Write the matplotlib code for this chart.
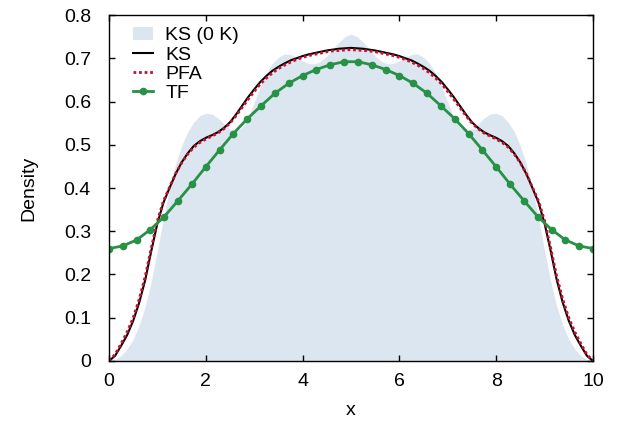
import numpy as np
import matplotlib
matplotlib.use("Agg")
import matplotlib.pyplot as plt
from matplotlib.ticker import FuncFormatter

plt.rcParams['font.family'] = ['Liberation Sans', 'DejaVu Sans']
plt.rcParams['font.size'] = 14

# grid for the KS / PFA / KS(0 K) curves (step 0.125)
x = np.linspace(0, 10, 81)

ks0 = [0.000, 0.004, 0.012, 0.028, 0.050, 0.083, 0.127, 0.185, 0.255, 0.330,
       0.400, 0.455, 0.497, 0.530, 0.552, 0.567, 0.573, 0.571, 0.562, 0.548,
       0.536, 0.532, 0.540, 0.562, 0.598, 0.634, 0.665, 0.688, 0.702, 0.710,
       0.709, 0.702, 0.694, 0.688, 0.687, 0.693, 0.705, 0.721, 0.737, 0.750,
       0.756,
       0.750, 0.737, 0.721, 0.705, 0.693, 0.687, 0.688, 0.694, 0.702, 0.709,
       0.710, 0.702, 0.688, 0.665, 0.634, 0.598, 0.562, 0.540, 0.532, 0.536,
       0.548, 0.562, 0.571, 0.573, 0.567, 0.552, 0.530, 0.497, 0.455, 0.400,
       0.330, 0.255, 0.185, 0.127, 0.083, 0.050, 0.028, 0.012, 0.004, 0.000]

ks = [0.000, 0.012, 0.035, 0.060, 0.093, 0.135, 0.188, 0.255, 0.318, 0.366,
      0.400, 0.432, 0.459, 0.480, 0.497, 0.508, 0.516, 0.522, 0.529, 0.539,
      0.552, 0.570, 0.590, 0.610, 0.628, 0.645, 0.659, 0.671, 0.680, 0.688,
      0.695, 0.700, 0.705, 0.709, 0.712, 0.715, 0.718, 0.720, 0.722, 0.723,
      0.724,
      0.723, 0.722, 0.720, 0.718, 0.715, 0.712, 0.709, 0.705, 0.700, 0.695,
      0.688, 0.680, 0.671, 0.659, 0.645, 0.628, 0.610, 0.590, 0.570, 0.552,
      0.539, 0.529, 0.522, 0.516, 0.508, 0.497, 0.480, 0.459, 0.432, 0.400,
      0.366, 0.318, 0.255, 0.188, 0.135, 0.093, 0.060, 0.035, 0.012, 0.000]

pfa = [0.000, 0.015, 0.040, 0.067, 0.100, 0.143, 0.196, 0.262, 0.324, 0.370,
       0.401, 0.433, 0.458, 0.478, 0.494, 0.505, 0.513, 0.520, 0.527, 0.537,
       0.550, 0.567, 0.586, 0.605, 0.623, 0.640, 0.654, 0.666, 0.676, 0.684,
       0.691, 0.697, 0.702, 0.706, 0.709, 0.712, 0.715, 0.717, 0.718, 0.719,
       0.720,
       0.719, 0.718, 0.717, 0.715, 0.712, 0.709, 0.706, 0.702, 0.697, 0.691,
       0.684, 0.676, 0.666, 0.654, 0.640, 0.623, 0.605, 0.586, 0.567, 0.550,
       0.537, 0.527, 0.520, 0.513, 0.505, 0.494, 0.478, 0.458, 0.433, 0.401,
       0.370, 0.324, 0.262, 0.196, 0.143, 0.100, 0.067, 0.040, 0.015, 0.000]

# TF is sampled on a coarser grid (markers)
x_tf = np.linspace(0, 10, 36)
tf = [0.260, 0.266, 0.280, 0.304, 0.334, 0.371, 0.409, 0.449, 0.488, 0.526,
      0.560, 0.590, 0.619, 0.642, 0.660, 0.674, 0.685, 0.692,
      0.692, 0.685, 0.674, 0.660, 0.642, 0.619, 0.590, 0.560, 0.526, 0.488,
      0.449, 0.409, 0.371, 0.334, 0.304, 0.280, 0.266, 0.260]

fig = plt.figure(figsize=(6.21, 4.24), dpi=100)
ax = fig.add_axes([0.1755, 0.1486, 0.7794, 0.8160])

ax.fill_between(x, 0, ks0, color='#dce6f1', lw=0, label='KS (0 K)')
ax.plot(x, ks, color='black', lw=1.5, label='KS')
ax.plot(x, pfa, color='#c8102e', lw=2, ls=(0, (1, 1)), label='PFA')
ax.plot(x_tf, tf, color='#279146', lw=2, marker='o', ms=4.5, label='TF')

ax.set_xlim(0, 10)
ax.set_ylim(0, 0.8)
ax.set_xticks([0, 2, 4, 6, 8, 10])
ax.set_yticks(np.arange(0, 0.81, 0.1))
ax.yaxis.set_major_formatter(FuncFormatter(lambda v, p: '%g' % round(v, 1)))
ax.tick_params(direction='in', top=True, right=True, length=4, width=1)
ax.tick_params(axis='y', pad=13)
ax.tick_params(axis='x', pad=9)
for s in ax.spines.values():
    s.set_linewidth(1)

ax.set_xlabel('x')
ax.set_ylabel('Density')
ax.xaxis.set_label_coords(0.5, -0.118)
ax.yaxis.set_label_coords(-0.148, 0.5)

ax.legend(loc='upper left', bbox_to_anchor=(0.05, 0.966), frameon=False,
          handlelength=1.0, handletextpad=0.65, labelspacing=0.08,
          borderpad=0, borderaxespad=0)

fig.savefig('out.png', dpi=100)
